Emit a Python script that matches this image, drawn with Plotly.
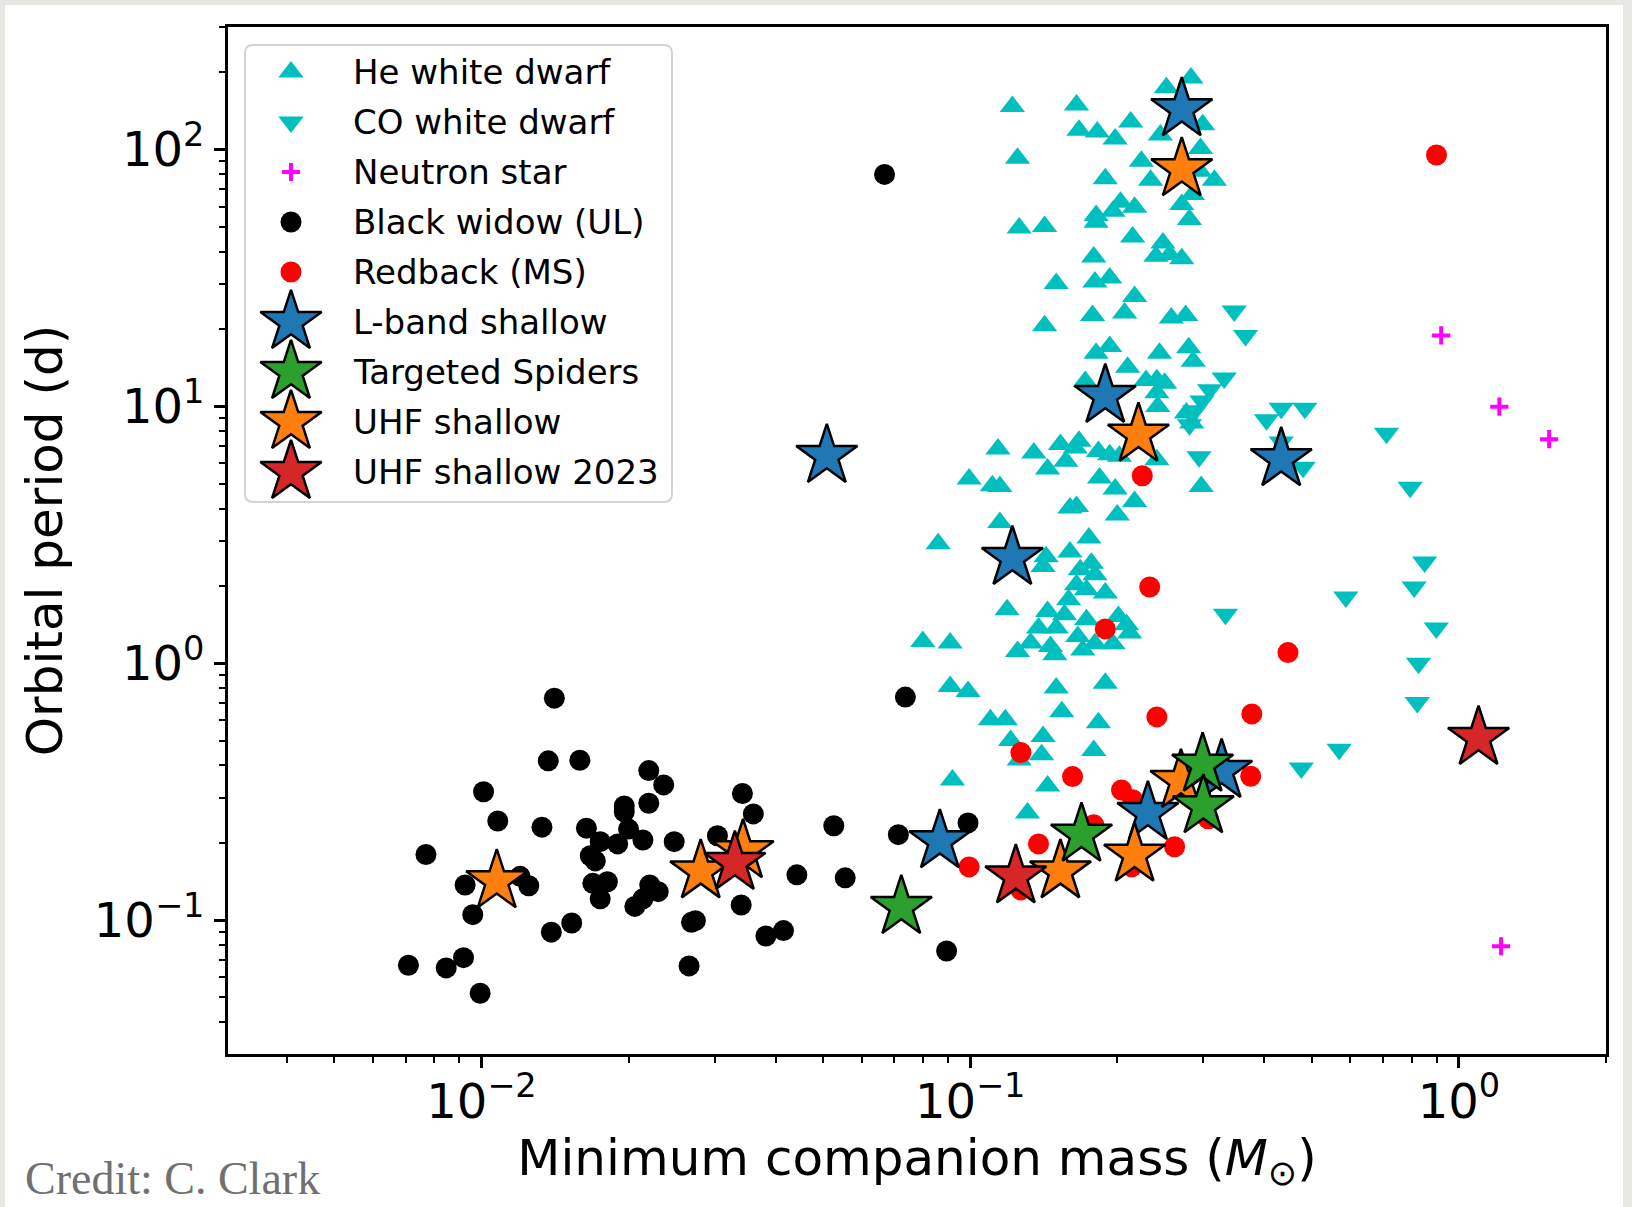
import plotly.graph_objects as go
import math

# ---------------- data ----------------
categories = ["He white dwarf", "CO white dwarf", "Neutron star", "Black widow (UL)",
              "Redback (MS)", "L-band shallow", "Targeted Spiders", "UHF shallow",
              "UHF shallow 2023"]

he_mass = [0.122, 0.165, 0.252, 0.283, 0.167, 0.182, 0.198, 0.213, 0.245, 0.299,
           0.125, 0.224, 0.296, 0.234, 0.316, 0.295, 0.189, 0.203, 0.217, 0.196,
           0.181, 0.181, 0.271, 0.285, 0.281, 0.126, 0.142, 0.215, 0.248, 0.240,
           0.256, 0.271, 0.179, 0.150, 0.180, 0.193, 0.217, 0.142, 0.178, 0.207,
           0.258, 0.276, 0.181, 0.193, 0.210, 0.244, 0.280, 0.286, 0.172, 0.229,
           0.241, 0.250, 0.241, 0.242, 0.277, 0.284, 0.114, 0.135, 0.153, 0.167,
           0.164, 0.183, 0.193, 0.144, 0.157, 0.0995, 0.111, 0.115, 0.184, 0.198,
           0.217, 0.160, 0.165, 0.200, 0.115, 0.086, 0.175, 0.160, 0.143, 0.141,
           0.177, 0.168, 0.180, 0.189, 0.173, 0.165, 0.159, 0.119, 0.144, 0.156,
           0.173, 0.201, 0.209, 0.212, 0.138, 0.150, 0.166, 0.180, 0.196, 0.133,
           0.125, 0.146, 0.149, 0.170, 0.080, 0.091, 0.091, 0.099, 0.150, 0.189,
           0.297, 0.202, 0.241, 0.110, 0.118, 0.154, 0.183, 0.121, 0.141, 0.140,
           0.126, 0.179, 0.092, 0.144, 0.131]
he_pb = [147, 149, 174, 190, 119, 117, 110, 128, 114, 125,
         92.5, 90.0, 101, 75.9, 75.9, 82.3, 76.9, 62.3, 59.6, 57.5,
         55.3, 52.1, 61.1, 66.8, 53.4, 49.5, 50.2, 45.7, 43.3, 38.4,
         39.0, 37.6, 38.2, 30.1, 30.5, 31.6, 26.8, 20.6, 22.6, 23.1,
         22.1, 22.6, 16.1, 17.1, 14.2, 16.1, 16.9, 15.0, 12.5, 12.6,
         12.7, 12.3, 11.3, 10.0, 9.43, 8.62, 6.82, 6.58, 7.10, 7.31,
         6.89, 6.68, 6.48, 5.71, 6.11, 5.22, 4.91, 4.88, 5.26, 4.77,
         4.26, 4.02, 4.08, 3.78, 3.53, 2.92, 3.07, 2.71, 2.60, 2.38,
         2.45, 2.31, 2.21, 1.875, 1.931, 2.02, 1.766, 1.614, 1.590, 1.543,
         1.476, 1.520, 1.411, 1.310, 1.370, 1.370, 1.271, 1.190, 1.190, 1.198,
         1.110, 1.161, 1.078, 1.127, 1.215, 1.198, 0.811, 0.776, 0.800, 0.836,
         4.88, 6.39, 6.20, 0.602, 0.602, 0.648, 0.587, 0.500, 0.518, 0.440,
         0.420, 0.457, 0.351, 0.333, 0.261]

co_mass = [0.347, 0.366, 0.331, 0.309, 0.298, 0.288, 0.281, 0.294, 0.404, 0.433,
           0.484, 0.433, 0.480, 0.711, 0.795, 0.851, 0.810, 0.587, 0.899, 0.827,
           0.822, 0.569, 0.476, 0.333]
co_pb = [23.5, 18.9, 12.9, 11.6, 10.5, 9.62, 8.48, 6.37, 8.87, 9.83,
         9.83, 7.27, 5.79, 7.86, 4.84, 2.48, 1.98, 1.81, 1.37, 1.00,
         0.704, 0.462, 0.391, 1.55]

ns_mass = [0.920, 1.21, 1.53, 1.22]
ns_pb = [18.9, 9.97, 7.45, 0.0791]

bw_mass = [0.0141, 0.0137, 0.0159, 0.0101, 0.0220, 0.0236, 0.0108, 0.0133, 0.0196, 0.0196,
           0.0220, 0.0077, 0.0164, 0.0175, 0.0200, 0.0190, 0.0214, 0.0248, 0.0342, 0.0360,
           0.0304, 0.0526, 0.0713, 0.00926, 0.0120, 0.0125, 0.0167, 0.0171, 0.0169, 0.0181,
           0.0175, 0.0221, 0.0230, 0.0214, 0.0206, 0.0442, 0.0555, 0.0096, 0.0139, 0.0153,
           0.0269, 0.0274, 0.0340, 0.0382, 0.0415, 0.00709, 0.00847, 0.00919, 0.00994, 0.0266,
           0.0668, 0.0737, 0.0990, 0.0895]
bw_pb = [0.731, 0.417, 0.419, 0.316, 0.382, 0.336, 0.243, 0.230, 0.278, 0.264,
         0.285, 0.180, 0.228, 0.202, 0.226, 0.198, 0.205, 0.202, 0.311, 0.259,
         0.213, 0.233, 0.215, 0.137, 0.148, 0.136, 0.178, 0.170, 0.139, 0.141,
         0.121, 0.137, 0.129, 0.121, 0.113, 0.150, 0.146, 0.105, 0.0897, 0.0974,
         0.0980, 0.0995, 0.1145, 0.0867, 0.0910, 0.0667, 0.0651, 0.0714, 0.0519, 0.0663,
         80.0, 0.738, 0.239, 0.0758]

rb_mass = [0.900, 0.225, 0.233, 0.189, 0.447, 0.241, 0.377, 0.127, 0.162, 0.204,
           0.215, 0.375, 0.307, 0.138, 0.179, 0.262, 0.0995, 0.127, 0.214]
rb_pb = [95.2, 5.37, 1.98, 1.36, 1.10, 0.618, 0.635, 0.449, 0.362, 0.321,
         0.294, 0.363, 0.248, 0.198, 0.235, 0.193, 0.161, 0.131, 0.161]

lband_mass = [0.271, 0.189, 0.0509, 0.122, 0.433, 0.0867, 0.231, 0.327]
lband_pb = [143.5, 10.98, 6.41, 2.57, 6.23, 0.2027, 0.261, 0.381]

targ_mass = [0.0723, 0.169, 0.299, 0.300]
targ_pb = [0.1124, 0.2151, 0.403, 0.2774]

uhf_mass = [0.271, 0.221, 0.01075, 0.0281, 0.0343, 0.153, 0.217, 0.270]
uhf_pb = [83.8, 7.76, 0.1416, 0.1548, 0.1854, 0.1548, 0.1797, 0.348]

uhf23_mass = [0.0330, 0.124, 1.097]
uhf23_pb = [0.1669, 0.148, 0.512]

x_tick_vals = [0.01, 0.1, 1.0]
x_tick_text = ["10<sup>\u22122</sup>", "10<sup>\u22121</sup>", "10<sup>0</sup>"]
y_tick_vals = [0.1, 1.0, 10.0, 100.0]
y_tick_text = ["10<sup>\u22121</sup>", "10<sup>0</sup>", "10<sup>1</sup>", "10<sup>2</sup>"]
x_limits = [0.00303, 2.0]
y_limits = [0.0301, 300.0]

x_title = "Minimum companion mass (<i>M</i><sub>\u2299</sub>)"
y_title = "Orbital period (d)"
credit_text = "Credit: C. Clark"

# ---------------- styles ----------------
FONT = "DejaVu Sans"
CYAN = "#00bfbf"
styles = {
    "He white dwarf": dict(symbol="triangle-up", color=CYAN, size=22, opacity=1,
                           line=dict(width=0, color=CYAN)),
    "CO white dwarf": dict(symbol="triangle-down", color=CYAN, size=22, opacity=1,
                           line=dict(width=0, color=CYAN)),
    "Neutron star": dict(symbol="cross-thin", color="#ff00ff", size=13, opacity=1,
                         line=dict(width=4, color="#ff00ff")),
    "Black widow (UL)": dict(symbol="circle", color="black", size=21, opacity=1,
                             line=dict(width=0, color="black")),
    "Redback (MS)": dict(symbol="circle", color="#ff0000", size=21, opacity=1,
                         line=dict(width=0, color="#ff0000")),
    "L-band shallow": dict(symbol="star", color="#1f77b4", size=46, opacity=1,
                           line=dict(width=2.5, color="black")),
    "Targeted Spiders": dict(symbol="star", color="#2ca02c", size=46, opacity=1,
                             line=dict(width=2.5, color="black")),
    "UHF shallow": dict(symbol="star", color="#ff7f0e", size=46, opacity=1,
                        line=dict(width=2.5, color="black")),
    "UHF shallow 2023": dict(symbol="star", color="#d62728", size=46, opacity=1,
                             line=dict(width=2.5, color="black")),
}

series = [
    ("He white dwarf", he_mass, he_pb),
    ("CO white dwarf", co_mass, co_pb),
    ("Neutron star", ns_mass, ns_pb),
    ("Black widow (UL)", bw_mass, bw_pb),
    ("Redback (MS)", rb_mass, rb_pb),
    ("L-band shallow", lband_mass, lband_pb),
    ("UHF shallow", uhf_mass, uhf_pb),
    ("UHF shallow 2023", uhf23_mass, uhf23_pb),
    ("Targeted Spiders", targ_mass, targ_pb),
]

W, H = 1632, 1207
ML, MR, MT, MB = 228, 26, 27, 153
PW, PH = W - ML - MR, H - MT - MB


def paper(px, py):
    return (px - ML) / PW, (H - MB - py) / PH


fig = go.Figure()
for name, xs, ys in series:
    fig.add_trace(go.Scatter(x=xs, y=ys, mode="markers", name=name,
                             marker=styles[name], showlegend=False, hoverinfo="x+y+name"))

# ---------------- custom legend (large symbols like the reference) ----------------
LEG_X0, LEG_Y0, LEG_X1, LEG_Y1 = 245, 45, 672, 502
ROW0, ROW_STEP, SYM_X, TXT_X = 72, 50, 291, 351
leg_x, leg_y, sym, col, siz, lcol, lw = [], [], [], [], [], [], []
annotations = []
for i, name in enumerate(categories):
    st = styles[name]
    sx, sy = paper(SYM_X, ROW0 + i * ROW_STEP)
    leg_x.append(sx)
    leg_y.append(sy)
    sym.append(st["symbol"])
    col.append(st["color"])
    siz.append(st["size"])
    lcol.append(st["line"]["color"])
    lw.append(st["line"]["width"])
    tx, ty = paper(TXT_X, ROW0 + i * ROW_STEP)
    annotations.append(dict(x=tx, y=ty, xref="paper", yref="paper", text=name,
                            showarrow=False, xanchor="left", yanchor="middle",
                            font=dict(family=FONT, size=34, color="black")))

fig.add_trace(go.Scatter(x=leg_x, y=leg_y, xaxis="x2", yaxis="y2", mode="markers",
                         marker=dict(symbol=sym, color=col, size=siz, opacity=1,
                                     line=dict(color=lcol, width=lw)),
                         showlegend=False, hoverinfo="skip", cliponaxis=False))

cx, cy = paper(23, 1178)
annotations.append(dict(x=cx, y=cy, xref="paper", yref="paper", text=credit_text,
                        showarrow=False, xanchor="left", yanchor="middle",
                        font=dict(family="Liberation Serif", size=46, color="#707070")))

# legend box (rounded) and the photo-like frame
lx0, ly1 = paper(LEG_X0, LEG_Y0)
lx1, ly0 = paper(LEG_X1, LEG_Y1)
rx, ry = 8 / PW, 8 / PH
legend_path = (f"M{lx0+rx},{ly0} L{lx1-rx},{ly0} Q{lx1},{ly0} {lx1},{ly0+ry} "
               f"L{lx1},{ly1-ry} Q{lx1},{ly1} {lx1-rx},{ly1} L{lx0+rx},{ly1} "
               f"Q{lx0},{ly1} {lx0},{ly1-ry} L{lx0},{ly0+ry} Q{lx0},{ly0} {lx0+rx},{ly0} Z")
fx0, fy1 = paper(5, 5)
fx1, fy0 = paper(1623, 1207)
shapes = [
    dict(type="rect", xref="paper", yref="paper", x0=fx0, x1=fx1, y0=fy0, y1=fy1,
         fillcolor="white", line=dict(width=0), layer="below"),
    dict(type="path", xref="paper", yref="paper", path=legend_path,
         fillcolor="white", line=dict(color="#d4d4d4", width=2), layer="below"),
]

minor_vals = [k * 10 ** e for e in range(-3, 3) for k in range(2, 10)]
x_minor = [v for v in minor_vals if x_limits[0] <= v <= x_limits[1]]
y_minor = [v for v in minor_vals if y_limits[0] <= v <= y_limits[1]]

axis_common = dict(type="log", showline=True, linecolor="black", linewidth=3, mirror=True,
                   ticks="outside", ticklen=11, tickwidth=2.5, tickcolor="black",
                   showgrid=False, zeroline=False, tickmode="array",
                   tickfont=dict(family=FONT, size=48, color="black"))

fig.update_layout(
    width=W, height=H,
    margin=dict(l=ML, r=MR, t=MT, b=MB, autoexpand=False),
    paper_bgcolor="#e7e7e3", plot_bgcolor="white",
    showlegend=False,
    font=dict(family=FONT, color="black"),
    xaxis=dict(axis_common, range=[math.log10(x_limits[0]), math.log10(x_limits[1])],
               tickvals=x_tick_vals, ticktext=x_tick_text, ticklabelstandoff=-8,
               minor=dict(tickmode="array", tickvals=x_minor, ticks="outside", ticklen=6,
                          tickwidth=2, tickcolor="black", showgrid=False),
               title=dict(text=x_title, font=dict(family=FONT, size=50, color="black"), standoff=12)),
    yaxis=dict(axis_common, range=[math.log10(y_limits[0]), math.log10(y_limits[1])],
               tickvals=y_tick_vals, ticktext=y_tick_text,
               minor=dict(tickmode="array", tickvals=y_minor, ticks="outside", ticklen=6,
                          tickwidth=2, tickcolor="black", showgrid=False),
               title=dict(text=y_title, font=dict(family=FONT, size=50, color="black"), standoff=16)),
    xaxis2=dict(domain=[0, 1], range=[0, 1], overlaying="x", anchor="y2", visible=False,
                fixedrange=True),
    yaxis2=dict(domain=[0, 1], range=[0, 1], overlaying="y", anchor="x2", visible=False,
                fixedrange=True),
    shapes=shapes,
    annotations=annotations,
)

fig.write_html("out.html")
